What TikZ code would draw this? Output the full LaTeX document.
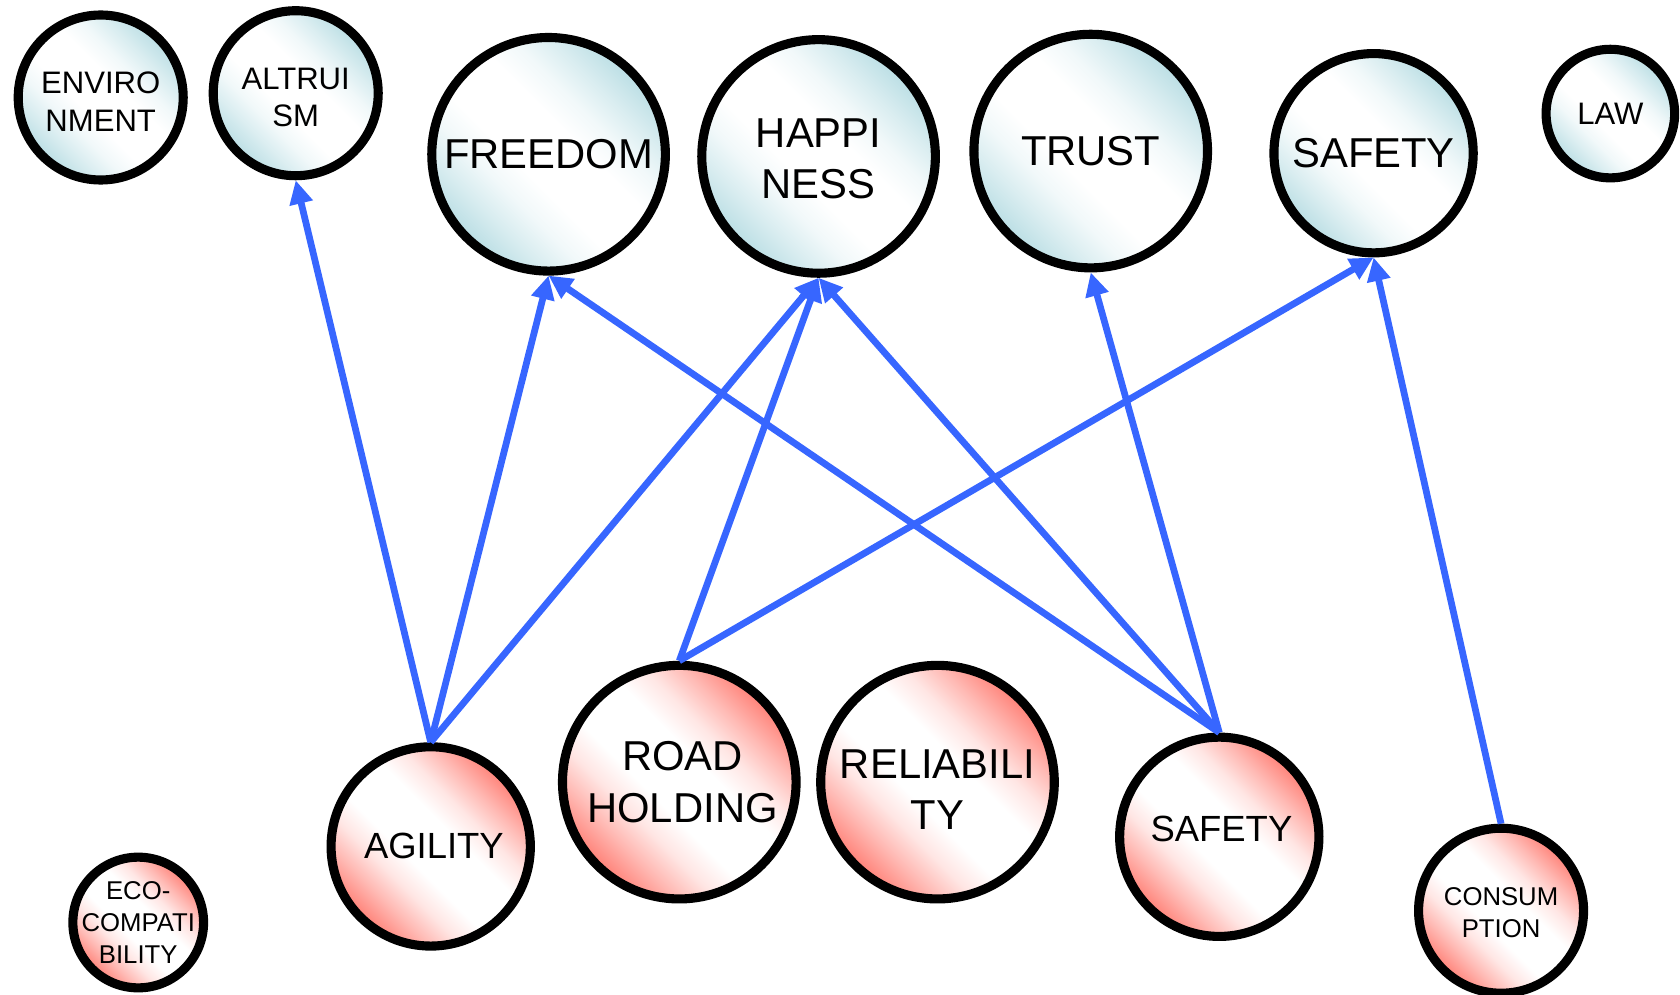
\documentclass[tikz,border=0pt]{standalone}
\usepackage{fontspec}
\setmainfont{Liberation Sans}
\usetikzlibrary{arrows.meta}
\definecolor{tealc}{RGB}{186,222,228}
\definecolor{pinkc}{RGB}{255,128,118}
\definecolor{arrowc}{RGB}{55,102,255}
\pgfdeclareverticalshading{tealband}{100bp}{color(0bp)=(tealc); color(25bp)=(tealc); color(32bp)=(tealc!55); color(38bp)=(tealc!20); color(44bp)=(white); color(56bp)=(white); color(62bp)=(tealc!20); color(68bp)=(tealc!55); color(75bp)=(tealc); color(100bp)=(tealc)}
\pgfdeclareverticalshading{pinkband}{100bp}{color(0bp)=(pinkc); color(25bp)=(pinkc); color(32bp)=(pinkc!55); color(38bp)=(pinkc!20); color(44bp)=(white); color(56bp)=(white); color(62bp)=(pinkc!20); color(68bp)=(pinkc!55); color(75bp)=(pinkc); color(100bp)=(pinkc)}
\tikzset{
  vnode/.style={circle, draw=black, line width=8.5pt, shading=tealband, shading angle=-45, inner sep=0pt},
  anode/.style={circle, draw=black, line width=8.5pt, shading=pinkband, shading angle=-45, inner sep=0pt},
  lbl/.style={align=center, inner sep=0pt, text=black},
  big/.style={font=\fontsize{39}{48}\selectfont},
  mid/.style={font=\fontsize{34}{41}\selectfont},
  small/.style={font=\fontsize{29}{35}\selectfont},
  tiny/.style={font=\fontsize{24}{30}\selectfont},
  link/.style={draw=arrowc, line width=6.3pt, -{Triangle[length=22pt,width=21pt]}}
}
\begin{document}
\begin{tikzpicture}[x=1pt,y=-1pt]
\useasboundingbox (0,0) rectangle (1568,928);
\begin{scope}
\clip (0,0) rectangle (1568,928);
% top nodes (values)
\node[vnode, minimum size=154pt] (env) at (94,91) {};
\node[vnode, minimum size=154pt] (alt) at (276,87) {};
\node[vnode, minimum size=218pt] (free) at (512,144) {};
\node[vnode, minimum size=218pt] (happ) at (764,146) {};
\node[vnode, minimum size=218pt] (trust) at (1018,141) {};
\node[vnode, minimum size=186pt] (safeT) at (1282,143) {};
\node[vnode, minimum size=120pt] (law) at (1503,106) {};
% bottom nodes (attributes)
\node[anode, minimum size=122pt] (eco) at (129,861) {};
\node[anode, minimum size=186pt] (agil) at (402,790) {};
\node[anode, minimum size=218pt] (road) at (634,730) {};
\node[anode, minimum size=218pt] (rel) at (875,730) {};
\node[anode, minimum size=186pt] (safeB) at (1138,781) {};
\node[anode, minimum size=154pt] (cons) at (1401,850) {};
% labels
\node[lbl, small] (env-t) at ([yshift=-4pt]env.center) {ENVIRO\\NMENT};
\node[lbl, small] (alt-t) at ([yshift=-4pt]alt.center) {ALTRUI\\SM};
\node[lbl, big] (free-t) at (free) {FREEDOM};
\node[lbl, big] (happ-t) at ([yshift=-2pt]happ.center) {HAPPI\\NESS};
\node[lbl, big] (trust-t) at (trust) {TRUST};
\node[lbl, big] (safeT-t) at (safeT) {SAFETY};
\node[lbl, small] (law-t) at (law) {LAW};
\node[lbl, tiny] (eco-t) at (eco) {ECO-\\COMPATI\\BILITY};
\node[lbl, mid] (agil-t) at ([xshift=3pt]agil.center) {AGILITY};
\node[lbl, big] (road-t) at ([xshift=3pt]road.center) {ROAD\\HOLDING};
\node[lbl, big] (rel-t) at ([yshift=-7pt]rel.center) {RELIABILI\\TY};
\node[lbl, mid] (safeB-t) at ([yshift=7pt,xshift=2pt]safeB.center) {SAFETY};
\node[lbl, tiny] (cons-t) at ([yshift=-2pt]cons.center) {CONSUM\\PTION};
% connectors
\draw[link] (agil.north) -- (alt.south);
\draw[link] (agil.north) -- (free.south);
\draw[link] (agil.north) -- (happ.south);
\draw[link] (road.north) -- (happ.south);
\draw[link] (road.north) -- (safeT.south);
\draw[link] (safeB.north) -- (free.south);
\draw[link] (safeB.north) -- (happ.south);
\draw[link] (safeB.north) -- (trust.south);
\draw[link] (cons.north) -- (safeT.south);
\end{scope}
\end{tikzpicture}
\end{document}
